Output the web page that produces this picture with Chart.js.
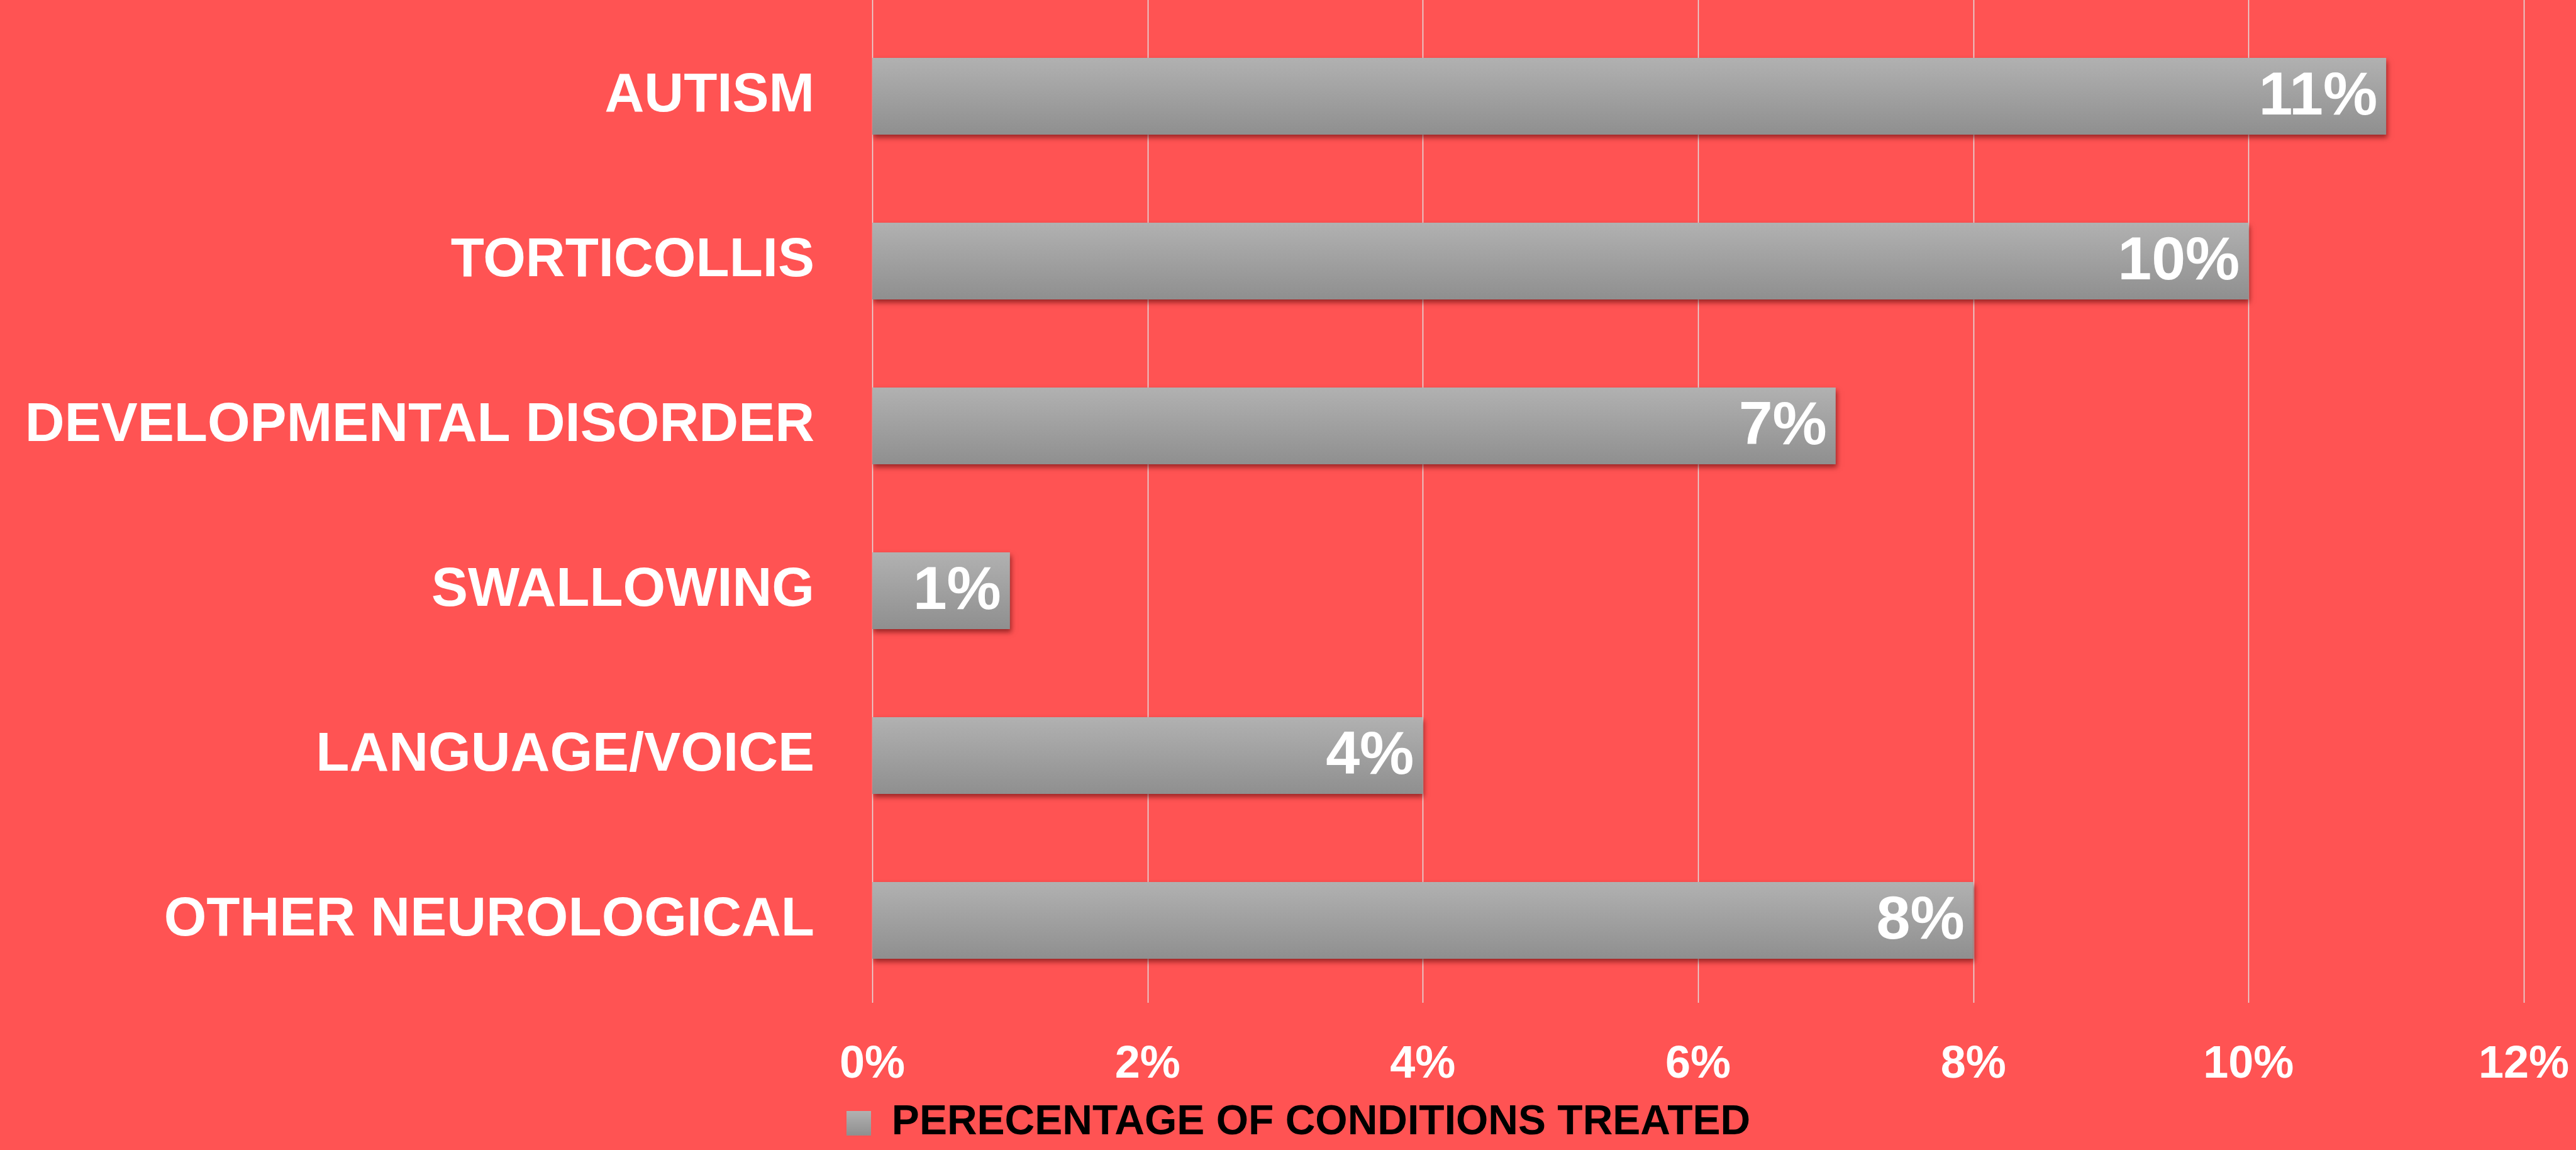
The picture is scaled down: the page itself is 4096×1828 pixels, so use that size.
<!DOCTYPE html>
<html>
<head>
<meta charset="utf-8">
<script src="https://cdn.jsdelivr.net/npm/chart.js@4.4.1/dist/chart.umd.min.js"></script>
<style>
  html, body { margin: 0; padding: 0; background: #ff5353; }
  #wrap { width: 4096px; height: 1828px; }
</style>
</head>
<body>
<div id="wrap"><canvas id="chart" width="4096" height="1828"></canvas></div>
<script>
// chart data
const categories = ['AUTISM', 'TORTICOLLIS', 'DEVELOPMENTAL DISORDER', 'SWALLOWING', 'LANGUAGE/VOICE', 'OTHER NEUROLOGICAL'];
const percentValues = [11, 10, 7, 1, 4, 8];
const seriesName = 'PERECENTAGE OF CONDITIONS TREATED';
const xTicks = [0, 2, 4, 6, 8, 10, 12];

const FONT = "'Liberation Sans', Arial, sans-serif";
const BAR_HALF = 61;

// gradient square for the legend
const legendSwatch = document.createElement('canvas');
legendSwatch.width = 39;
legendSwatch.height = 39;
(() => {
    const c = legendSwatch.getContext('2d');
    const g = c.createLinearGradient(0, 0, 0, 39);
    g.addColorStop(0, '#b2b2b2');
    g.addColorStop(1, '#909090');
    c.fillStyle = g;
    c.fillRect(0, 0, 39, 39);
})();

function barGradient(context) {
    const chart = context.chart;
    if (!chart.chartArea || !chart.scales.y) return '#a0a0a0';
    const yc = chart.scales.y.getPixelForValue(context.dataIndex);
    const g = chart.ctx.createLinearGradient(0, yc - BAR_HALF, 0, yc + BAR_HALF);
    g.addColorStop(0, '#b1b1b1');
    g.addColorStop(1, '#8f8f8f');
    return g;
}

// grid lines run from the very top of the canvas down to the axis
const gridPlugin = {
    id: 'fullGrid',
    beforeDatasetsDraw(chart) {
        const { ctx, chartArea, scales } = chart;
        ctx.save();
        ctx.strokeStyle = '#e2e2e2';
        ctx.lineWidth = 1.5;
        xTicks.forEach(v => {
            const x = Math.round(scales.x.getPixelForValue(v)) + 0.5;
            ctx.beginPath();
            ctx.moveTo(x, 0);
            ctx.lineTo(x, chartArea.bottom);
            ctx.stroke();
        });
        ctx.restore();
    }
};

// soft drop shadow under the bars
const shadowPlugin = {
    id: 'barShadow',
    beforeDatasetDraw(chart) {
        const ctx = chart.ctx;
        ctx.save();
        ctx.shadowColor = 'rgba(70, 0, 0, 0.55)';
        ctx.shadowBlur = 8;
        ctx.shadowOffsetX = 2;
        ctx.shadowOffsetY = 5;
    },
    afterDatasetDraw(chart) {
        chart.ctx.restore();
    }
};

// value labels inside the bar ends
const valueLabels = {
    id: 'valueLabels',
    afterDatasetsDraw(chart) {
        const ctx = chart.ctx;
        const meta = chart.getDatasetMeta(0);
        ctx.save();
        ctx.fillStyle = '#ffffff';
        ctx.font = `bold 97px ${FONT}`;
        ctx.textAlign = 'right';
        ctx.textBaseline = 'middle';
        meta.data.forEach((bar, i) => {
            ctx.fillText(percentValues[i] + '%', bar.x - 14, bar.y + 2);
        });
        ctx.restore();
    }
};

// legend sits a little right of the layout centre
const legendShift = {
    id: 'legendShift',
    afterLayout(chart) {
        chart.legend.left += 58;
        chart.legend.right += 58;
    }
};

new Chart(document.getElementById('chart'), {
    type: 'bar',
    data: {
        labels: categories,
        datasets: [{
            label: seriesName,
            data: percentValues,
            backgroundColor: barGradient,
            borderWidth: 0,
            barPercentage: 0.466,
            categoryPercentage: 1
        }]
    },
    options: {
        indexAxis: 'y',
        responsive: false,
        animation: false,
        devicePixelRatio: 1,
        layout: { padding: { top: 22, right: 83, left: 0, bottom: 0 } },
        plugins: {
            legend: {
                position: 'bottom',
                labels: {
                    color: '#000000',
                    font: { family: FONT, size: 66, weight: 'bold' },
                    usePointStyle: true,
                    pointStyle: legendSwatch,
                    pointStyleWidth: 39,
                    boxHeight: 39,
                    padding: 5,
                    generateLabels(chart) {
                        return [{
                            text: seriesName,
                            fillStyle: '#a0a0a0',
                            strokeStyle: 'rgba(0,0,0,0)',
                            lineWidth: 0,
                            pointStyle: legendSwatch,
                            datasetIndex: 0,
                            hidden: false
                        }];
                    }
                }
            },
            tooltip: { enabled: false }
        },
        scales: {
            x: {
                min: 0,
                max: 12,
                afterBuildTicks(scale) {
                    scale.ticks = xTicks.map(v => ({ value: v }));
                },
                afterFit(scale) {
                    scale.height = 153;
                    scale.paddingLeft = 0;
                    scale.paddingRight = 0;
                },
                grid: { display: false },
                border: { display: false },
                ticks: {
                    color: '#ffffff',
                    padding: 48,
                    font: { family: FONT, size: 72, weight: 'bold' },
                    callback: v => v + '%'
                }
            },
            y: {
                afterFit(scale) {
                    scale.width = 1387;
                    scale.paddingTop = 0;
                    scale.paddingBottom = 0;
                },
                grid: { display: false },
                border: { display: false },
                ticks: {
                    color: '#ffffff',
                    padding: 84,
                    font: { family: FONT, size: 87, weight: 'bold' }
                }
            }
        }
    },
    plugins: [gridPlugin, shadowPlugin, valueLabels, legendShift]
});
</script>
</body>
</html>
